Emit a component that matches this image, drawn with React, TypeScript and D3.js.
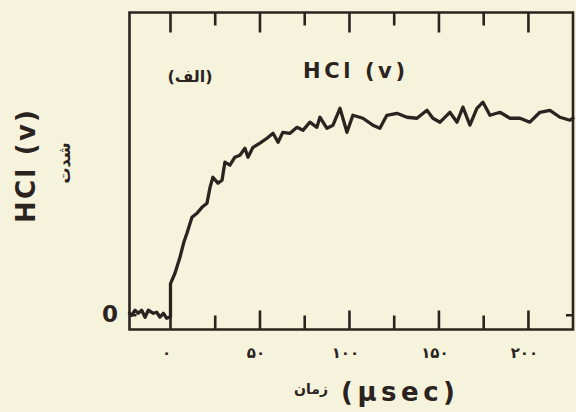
import React from "react";
import * as d3 from "d3";

// time (µs) and HCl(v) emission intensity (arbitrary units, plateau ~100)
const timeUs = [
  -22.9, -21.7, -19.8, -18.0, -16.1, -14.2, -12.4, -9.6, -7.7, -5.9, -4.0, -2.1, -0.7, 0, 0,
  2.5, 5.3, 7.5, 9.2, 12.0, 14.8, 17.6, 20.4, 22.1, 23.7, 26.5, 28.8, 30.4, 33.2, 36.0, 38.8,
  41.6, 43.3, 46.1, 50.0, 53.9, 57.3, 60.1, 62.8, 66.8, 70.7, 74.0, 77.9, 81.8, 83.5,
  87.4, 90.8, 94.7, 98.6, 101.9, 107.5, 113.1, 117.0, 120.9, 126.5, 132.1, 137.7,
  143.3, 146.6, 150.6, 156.1, 160.1, 163.4, 167.3, 171.2, 174.6, 178.5, 184.1, 189.7,
  195.3, 200.8, 206.4, 212.0, 217.6, 223.2, 224.9,
];
const intensity = [
  1.0, 0.0, 2.5, 1.0, 2.5, -1.0, 2.5, 1.0, 1.5, -1.0, 1.0, -1.5, -1.0, -1.0, 16.0,
  21.2, 29.3, 37.0, 41.4, 49.5, 51.5, 54.5, 56.6, 64.6, 69.7, 66.7, 68.2, 77.3, 75.8, 79.8, 80.8,
  84.3, 79.8, 84.8, 86.9, 89.4, 91.9, 87.4, 92.4, 91.9, 94.9, 93.4, 97.5, 94.9, 100.0,
  94.4, 96.0, 104.5, 92.4, 101.0, 99.5, 96.0, 94.4, 101.0, 102.0, 100.0, 99.5,
  103.5, 99.5, 97.5, 102.5, 97.5, 105.1, 96.0, 104.5, 107.6, 101.0, 102.5, 99.5,
  99.5, 97.5, 102.5, 103.5, 100.0, 98.5, 99.5,
];

const xTicks = [0, 25, 50, 75, 100, 125, 150, 175, 200];
const majorTicks = [0, 50, 100, 150, 200];
const xTickLabels = ["۰", "۵۰", "۱۰۰", "۱۵۰", "۲۰۰"];

const W = 576;
const H = 412;
const INK = "#2b2320";
const BG = "#f6f3dc";

export default function App() {
  const left = 129.5, right = 573, top = 12.5, bottom = 329.5;
  const x = d3.scaleLinear().domain([-22.9, 224.9]).range([left, right]);
  const y = d3.scaleLinear().domain([-7.2, 152.9]).range([bottom, top]);
  const pts = timeUs.map((t, i) => [t, intensity[i]] as [number, number]);
  const lineGen = d3
    .line<[number, number]>()
    .x((d) => x(d[0]))
    .y((d) => y(d[1]))
    .curve(d3.curveLinear);
  const isMajor = (t: number) => majorTicks.indexOf(t) >= 0;
  const bold = "'DejaVu Sans', 'Open Sans', sans-serif";

  // frame and ticks in one path
  const p = d3.path();
  p.moveTo(left, top);
  p.lineTo(right, top);
  p.lineTo(right, bottom);
  p.lineTo(left, bottom);
  p.closePath();
  xTicks.forEach((t) => {
    const px = x(t);
    p.moveTo(px, top);
    p.lineTo(px, top + (isMajor(t) ? 20 : 13));
    p.moveTo(px, bottom);
    p.lineTo(px, bottom - (isMajor(t) ? 19 : 14));
  });
  p.moveTo(right, y(0));
  p.lineTo(right - 7, y(0));
  p.moveTo(left, y(0));
  p.lineTo(left + 7, y(0));

  return (
    <svg width={W} height={H} style={{ position: "fixed", left: 0, top: 0 }}>
      <rect x={0} y={0} width={W} height={H} fill={BG} />
      <path d={p.toString()} fill="none" stroke={INK} strokeWidth={2.6} />
      {majorTicks.map((v, i) => (
        <text
          key={v}
          x={x(v) - 4}
          y={358}
          textAnchor="middle"
          fontFamily="'DejaVu Sans', sans-serif"
          fontWeight="bold"
          fontSize={15}
          fill={INK}
        >
          {xTickLabels[i]}
        </text>
      ))}
      <text
        x={110}
        y={322}
        textAnchor="middle"
        fontFamily={bold}
        fontWeight="bold"
        fontSize={23}
        fill={INK}
      >
        0
      </text>
      <path
        d={lineGen(pts) || ""}
        fill="none"
        stroke={INK}
        strokeWidth={3.3}
        strokeLinejoin="round"
        strokeLinecap="round"
      />
      <text
        x={303}
        y={78}
        fontFamily={bold}
        fontWeight="bold"
        fontSize={21}
        fill={INK}
        textLength={102}
        lengthAdjust="spacing"
      >
        HCl (v)
      </text>
      <text
        x={190}
        y={82}
        textAnchor="middle"
        fontFamily="'DejaVu Sans', sans-serif"
        fontWeight="bold"
        fontSize={16}
        fill={INK}
      >
        (الف)
      </text>
      <text
        transform="translate(35,223) rotate(-90)"
        fontFamily={bold}
        fontWeight="bold"
        fontSize={26}
        fill={INK}
        textLength={113}
        lengthAdjust="spacing"
      >
        HCl (v)
      </text>
      <text
        transform="translate(70,163) rotate(-90)"
        textAnchor="middle"
        fontFamily="'DejaVu Sans', sans-serif"
        fontWeight="bold"
        fontSize={16}
        fill={INK}
      >
        شدت
      </text>
      <text
        x={341}
        y={401}
        fontFamily={bold}
        fontWeight="bold"
        fontSize={26}
        fill={INK}
        textLength={114}
        lengthAdjust="spacing"
      >
        (µsec)
      </text>
      <text
        x={311}
        y={394}
        textAnchor="middle"
        fontFamily="'DejaVu Sans', sans-serif"
        fontWeight="bold"
        fontSize={14}
        fill={INK}
      >
        زمان
      </text>
    </svg>
  );
}
